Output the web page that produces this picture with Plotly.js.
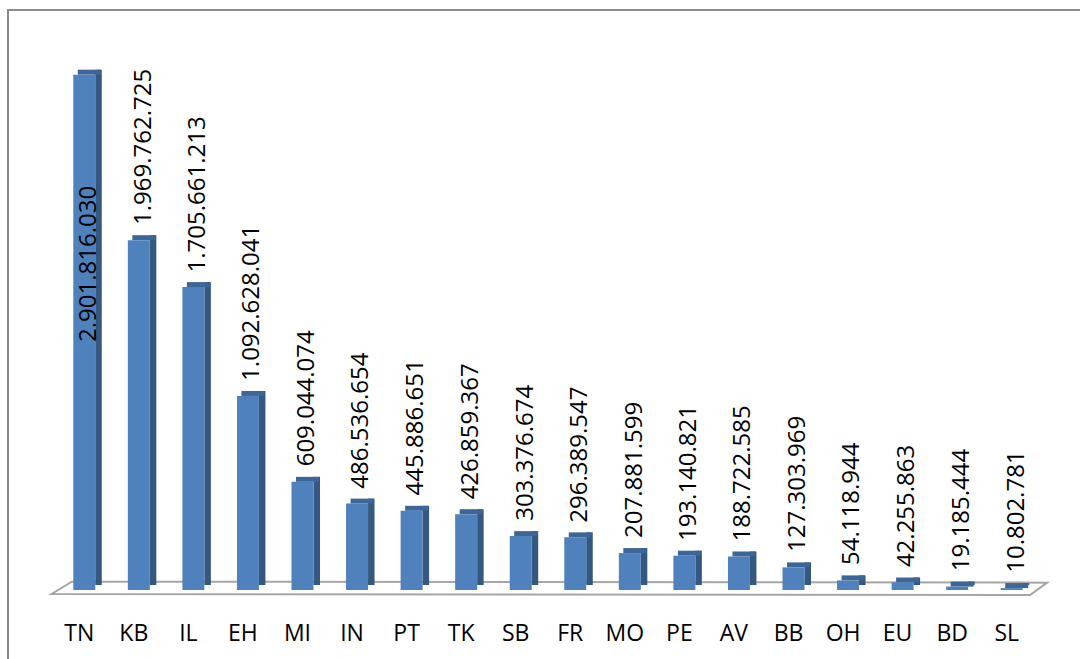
<!DOCTYPE html>
<html>
<head>
<meta charset="utf-8">
<script src="https://cdn.plot.ly/plotly-3.0.1.min.js"></script>
<style>
  html, body { margin: 0; padding: 0; background: #fff; overflow: hidden; }
  #wrap { position: relative; width: 1080px; height: 659px; }
  #chart { width: 1080px; height: 659px; }
  #frame { position: absolute; left: 7px; top: 9px; width: 2000px; height: 2000px;
           border-left: 2px solid #8a8a8a; border-top: 2px solid #8a8a8a; pointer-events: none; }
</style>
</head>
<body>
<div id="wrap">
  <div id="chart"></div>
  <div id="frame"></div>
</div>
<script>
// ---- data ----
const categories = ["TN","KB","IL","EH","MI","IN","PT","TK","SB","FR","MO","PE","AV","BB","OH","EU","BD","SL"];
const values = [2901816030, 1969762725, 1705661213, 1092628041, 609044074, 486536654, 445886651,
                426859367, 303376674, 296389547, 207881599, 193140821, 188722585, 127303969,
                54118944, 42255863, 19185444, 10802781];

// ---- helpers ----
function fmt(v) { return String(v).replace(/\B(?=(\d{3})+(?!\d))/g, "."); }
const maxV = Math.max(...values);
const yMax = 3.097e9;          // axis range top
const plotH = 550;             // plot height in px
const depth = yMax * 5 / plotH; // 3D depth of ~5px in data units
const catPx = 54.6;            // px per category

const tickFont = { family: "Open Sans, Liberation Sans, sans-serif", size: 23, color: "#000" };
const valFont = { family: "Open Sans, Liberation Sans, sans-serif", size: 24, color: "#000" };

const sideFace = {
  type: "bar", x: categories, y: values, base: values.map(() => depth),
  offset: 16 / catPx, width: 6.5 / catPx,
  marker: { color: "#34587f", line: { width: 0 } },
  hoverinfo: "skip", showlegend: false
};
const topFace = {
  type: "bar", x: categories, y: values.map(() => depth), base: values,
  offset: -1.5 / catPx, width: 23 / catPx,
  marker: { color: "#3e6597", line: { width: 0 } },
  hoverinfo: "skip", showlegend: false
};
const frontFace = {
  type: "bar", x: categories, y: values,
  offset: -6 / catPx, width: 22 / catPx,
  marker: { color: "#4f81bd", line: { width: 0 } },
  hoverinfo: "skip", showlegend: false
};

// value labels (rotated), the largest one sits inside its bar
const annotations = categories.map((c, i) => {
  const v = values[i];
  const inside = v === maxV;
  return {
    x: c, y: v, xref: "x", yref: "y",
    text: fmt(v), showarrow: false, textangle: -90,
    font: valFont,
    xanchor: "center",
    yanchor: inside ? "top" : "bottom",
    xshift: 7,
    yshift: inside ? -109 : 13
  };
});

// floor parallelogram (paper coordinates)
const floorPath = "M -0.0003,-0.0073 L 0.996,-0.0091 L 1.0133,0.0134 L 0.0201,0.0152 Z";

const layout = {
  width: 1080, height: 659,
  margin: { l: 52, r: 46, t: 40, b: 69 },
  paper_bgcolor: "#fff", plot_bgcolor: "rgba(0,0,0,0)",
  barmode: "overlay",
  showlegend: false,
  xaxis: {
    type: "category", range: [-0.5, 17.5],
    showgrid: false, zeroline: false, showline: false,
    ticks: "outside", ticklen: 22, tickcolor: "rgba(0,0,0,0)",
    tickfont: tickFont, fixedrange: true
  },
  yaxis: {
    range: [0, yMax], visible: false, showgrid: false, zeroline: false, fixedrange: true
  },
  annotations: annotations,
  shapes: [{
    type: "path", xref: "paper", yref: "paper", path: floorPath,
    fillcolor: "#ffffff", line: { color: "#a6a6a6", width: 2 }, layer: "below"
  }]
};

Plotly.newPlot("chart", [sideFace, topFace, frontFace], layout, { staticPlot: true, displayModeBar: false });
</script>
</body>
</html>
